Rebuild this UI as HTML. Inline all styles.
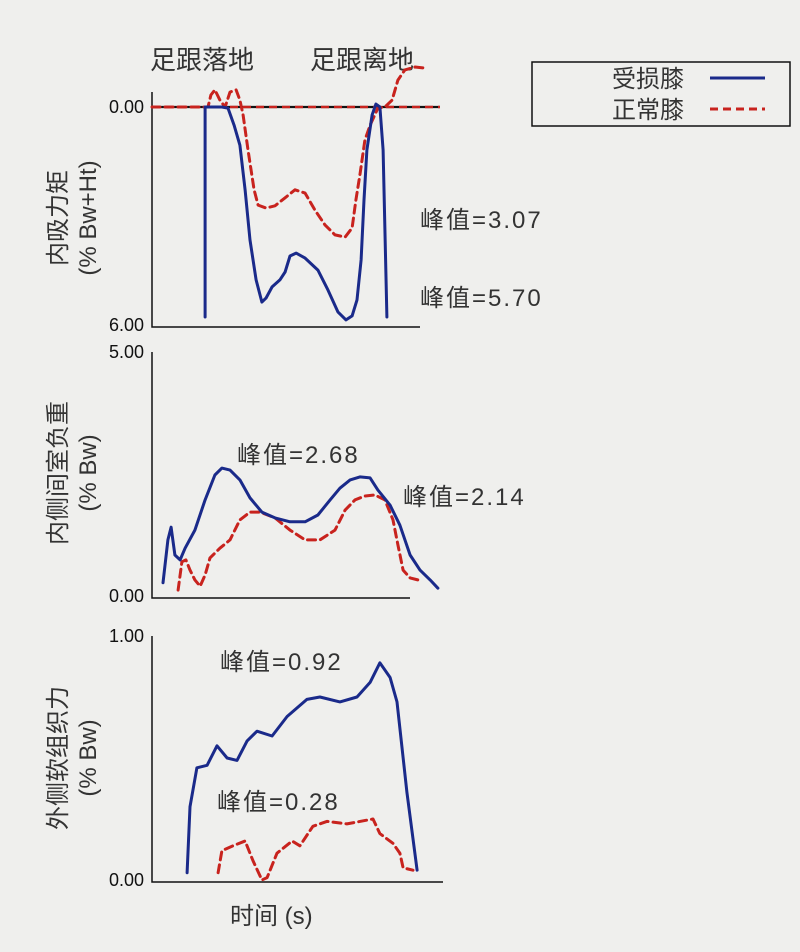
<!DOCTYPE html>
<html><head><meta charset="utf-8"><style>
body{margin:0;background:#efefed;}
svg{display:block;font-family:"Liberation Sans","Noto Sans CJK SC",sans-serif;}
.tick{font-size:18px;fill:#111;text-anchor:end;}
.cn{font-family:"Liberation Sans","Noto Sans CJK SC",sans-serif;font-size:24px;fill:#333;}
.top{font-family:"Liberation Sans","Noto Sans CJK SC",sans-serif;font-size:26px;fill:#333;}
.ann{font-family:"Liberation Sans","Noto Sans CJK SC",sans-serif;font-size:24px;fill:#333;letter-spacing:2px;}
</style></head><body>
<svg id="chart" width="800" height="952" viewBox="0 0 800 952">
<rect width="800" height="952" fill="#efefed"/>
<text class="top" x="150" y="69">足跟落地</text>
<text class="top" x="310" y="69">足跟离地</text>
<g>
<rect x="532" y="62" width="258" height="64" fill="none" stroke="#111" stroke-width="1.5"/>
<text class="cn" x="612" y="87">受损膝</text>
<line x1="710" y1="78" x2="765" y2="78" stroke="#1a2a8a" stroke-width="3"/>
<text class="cn" x="612" y="118">正常膝</text>
<line x1="710" y1="109" x2="765" y2="109" stroke="#c8231e" stroke-width="3" stroke-dasharray="8,5"/>
</g>
<g id="plots"></g>
<text class="cn" x="230" y="924">时间 (s)</text>
</svg>
<script>
// Panel 1: adduction moment (% Bw*Ht), time in % of gait
const p1BlueT=[18.3,18.3,24.1,26.2,28.3,30.3,32.1,33.8,35.9,37.9,39.3,41.4,44.1,45.9,47.6,49.7,52.8,57.2,60.7,64.1,66.9,69.0,70.7,72.1,73.1,74.1,75.9,77.2,78.6,79.7,81.0];
const p1BlueV=[5.78,0,0,0.03,0.5,1.05,2.28,3.66,4.76,5.37,5.26,4.95,4.76,4.54,4.10,4.02,4.16,4.49,5.04,5.64,5.86,5.75,5.31,4.21,2.56,1.18,0.22,-0.08,0,1.18,5.78];
const p1RedT=[0,19.3,20.3,21.7,23.4,25.2,26.9,29.0,30.3,31.4,33.1,35.2,36.6,39.3,42.4,45.9,49.3,52.8,56.2,59.7,63.1,66.6,69.0,70.3,71.7,73.4,75.2,77.9,80.3,82.8,84.8,87.2,90.7,94.1];
const p1RedV=[0,0,-0.33,-0.47,-0.19,0,-0.41,-0.47,-0.19,0.22,1.18,2.28,2.70,2.78,2.72,2.50,2.28,2.37,2.84,3.25,3.52,3.58,3.33,2.56,1.87,0.91,0.50,0.03,0,-0.19,-0.74,-1.02,-1.10,-1.07];
const p1Ticks=["0.00","6.00"];
// Panel 2: medial compartment load (% Bw)
const p2BlueT=[3.8,5.5,6.6,7.9,9.7,11.4,14.8,18.3,21.7,24.1,26.9,30.3,33.8,37.9,42.4,47.6,52.8,57.2,61.4,64.8,68.3,71.7,75.2,77.9,82.1,85.5,89.0,92.4,95.9,98.6];
const p2BlueV=[0.27,1.15,1.41,0.84,0.74,0.98,1.35,1.97,2.48,2.62,2.58,2.38,2.01,1.72,1.60,1.52,1.52,1.66,1.97,2.21,2.38,2.44,2.42,2.17,1.86,1.45,0.84,0.53,0.33,0.16];
const p2RedT=[9.0,10.3,11.7,13.1,14.8,16.6,18.3,20.0,23.4,26.9,30.3,33.8,37.2,42.4,47.6,52.8,57.9,63.1,66.6,70.0,73.4,76.9,80.3,83.1,84.8,86.6,89.0,91.7];
const p2RedV=[0.12,0.70,0.74,0.53,0.33,0.20,0.43,0.78,0.98,1.15,1.56,1.72,1.72,1.60,1.35,1.15,1.15,1.35,1.76,1.97,2.05,2.07,1.97,1.56,1.05,0.53,0.37,0.33];
const p2Ticks=["5.00","0.00"];
// Panel 3: lateral soft tissue force (% Bw)
const p3BlueT=[12.1,13.1,15.5,19.0,22.4,25.9,29.3,32.8,36.2,41.4,46.6,53.4,57.9,64.8,70.7,75.2,78.6,82.1,84.5,87.9,91.4];
const p3BlueV=[0.03,0.30,0.46,0.47,0.55,0.50,0.49,0.57,0.61,0.59,0.67,0.74,0.75,0.73,0.75,0.81,0.89,0.83,0.73,0.36,0.04];
const p3RedT=[22.8,24.1,27.9,32.1,34.8,37.9,39.7,43.1,48.3,51.0,55.5,60.3,67.2,76.2,78.6,83.1,85.5,86.6,90.0];
const p3RedV=[0.03,0.12,0.14,0.16,0.08,0,0.01,0.11,0.16,0.14,0.22,0.24,0.23,0.25,0.19,0.15,0.11,0.05,0.04];
const p3Ticks=["1.00","0.00"];

const NS="http://www.w3.org/2000/svg";
const root=document.getElementById('plots');
function xs(t){return 152+t*2.9;}
function mk(tag,attrs){const e=document.createElementNS(NS,tag);for(const k in attrs)e.setAttribute(k,attrs[k]);root.appendChild(e);return e;}
function path(T,V,ys){return T.map((t,i)=>(i?'L':'M')+xs(t).toFixed(1)+','+ys(V[i]).toFixed(1)).join(' ');}

const y1=v=>107+v*218/6;
const y2=v=>596-v*244/5;
const y3=v=>880-v*244;

function axes(top,bot,xEnd,name){
  const a=mk('path',{d:`M152,${top} L152,${bot+2} L${xEnd},${bot+2}`,fill:'none',stroke:'#111','stroke-width':1.5});
  
  
}
function tick(y,label,name){
  const t=mk('text',{x:144,y:y+6,class:'tick'});t.textContent=label;
  
  
}
function series(T,V,ys,red,name){
  const p=mk('path',{d:path(T,V,ys),fill:'none',stroke:red?'#c8231e':'#1a2a8a','stroke-width':3,'stroke-linejoin':'round','stroke-linecap':'round'});
  if(red)p.setAttribute('stroke-dasharray','8,5');
  
  
}
function ytitle(cx,cy,l1,l2,name){
  const g=mk('text',{class:'cn',transform:`translate(${cx},${cy}) rotate(-90)`,'text-anchor':'middle'});
  g.textContent=l1;
  
  
  const g2=mk('text',{class:'cn',transform:`translate(${cx+30},${cy}) rotate(-90)`,'text-anchor':'middle'});
  g2.textContent=l2;
  
  
}
function ann(x,y,txt,name){
  const t=mk('text',{x:x,y:y,class:'ann'});t.textContent=txt;
  
  
}

// Panel 1
axes(92,y1(6),420,'panel1');
const zl=mk('line',{x1:152,y1:y1(0),x2:440,y2:y1(0),stroke:'#111','stroke-width':2.2});


const zr=mk('line',{x1:152,y1:y1(0),x2:440,y2:y1(0),stroke:'#c8231e','stroke-width':2.5,'stroke-dasharray':'8,5'});


tick(y1(0),p1Ticks[0],'panel1-tick-0');
tick(y1(6),p1Ticks[1],'panel1-tick-6');
series(p1RedT,p1RedV,y1,true,'panel1-normal-line');
series(p1BlueT,p1BlueV,y1,false,'panel1-injured-line');
ytitle(66,218,'内吸力矩','(% Bw+Ht)','panel1-y-axis-title');
ann(420,228,'峰值=3.07','panel1-peak-normal');
ann(420,306,'峰值=5.70','panel1-peak-injured');

// Panel 2
axes(352,596,410,'panel2');
tick(y2(5),p2Ticks[0],'panel2-tick-5');
tick(y2(0),p2Ticks[1],'panel2-tick-0');
series(p2RedT,p2RedV,y2,true,'panel2-normal-line');
series(p2BlueT,p2BlueV,y2,false,'panel2-injured-line');
ytitle(66,473,'内侧间室负重','(% Bw)','panel2-y-axis-title');
ann(237,463,'峰值=2.68','panel2-peak-injured');
ann(403,505,'峰值=2.14','panel2-peak-normal');

// Panel 3
axes(636,880,443,'panel3');
tick(y3(1),p3Ticks[0],'panel3-tick-1');
tick(y3(0),p3Ticks[1],'panel3-tick-0');
series(p3RedT,p3RedV,y3,true,'panel3-normal-line');
series(p3BlueT,p3BlueV,y3,false,'panel3-injured-line');
ytitle(66,758,'外侧软组织力','(% Bw)','panel3-y-axis-title');
ann(220,670,'峰值=0.92','panel3-peak-injured');
ann(217,810,'峰值=0.28','panel3-peak-normal');
</script>
</body></html>
